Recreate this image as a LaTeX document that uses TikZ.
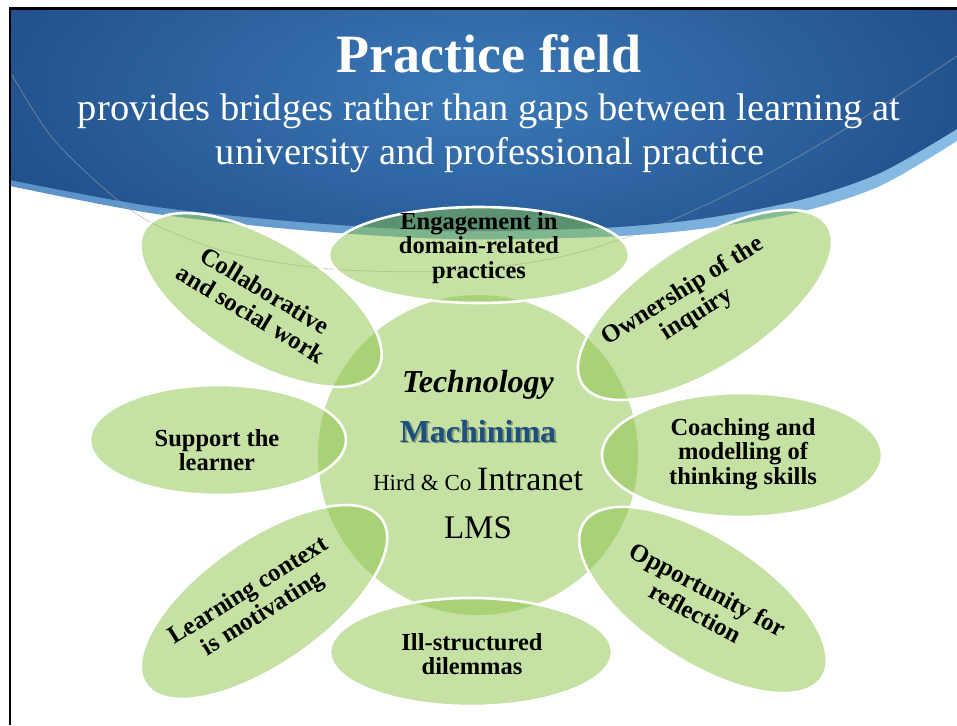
\documentclass[tikz,border=0pt]{standalone}
\usepackage{fontspec}
\setmainfont{Liberation Serif}
\usetikzlibrary{shapes.geometric}
\definecolor{hdrdark}{HTML}{1D4984}
\definecolor{hdrmid}{HTML}{3B79B7}
\definecolor{bandL}{HTML}{5A92C8}
\definecolor{bandR}{HTML}{88BCE4}
\definecolor{leaf}{RGB}{140,196,72}
\definecolor{machblue}{HTML}{1D4F80}
\begin{document}
% coordinates: x to the right, y measured downwards from the top edge (written negative)
\begin{tikzpicture}[x=1pt,y=1pt,
  blob/.style={ellipse, fill=leaf, fill opacity=0.5, draw=white, draw opacity=1,
               line width=2.6pt, inner sep=0pt},
  core/.style={circle, fill=leaf, fill opacity=0.5, inner sep=0pt, minimum size=320pt},
  lbl/.style={font=\bfseries\fontsize{24.5}{24.5}\selectfont, align=center, text=black, inner sep=0pt},
  rlbl/.style={lbl, font=\bfseries\fontsize{25}{27}\selectfont},
  hdr/.style={text=white, inner sep=0pt, anchor=base}]
\useasboundingbox (0,0) rectangle (957,-725);
\fill[white] (0,0) rectangle (957,-725);

% header banner: light band underneath, darker body on top
\shade[left color=bandL, right color=bandR]
  (10,-10) -- (957,-10) -- plot[smooth] coordinates {(957,-141) (880,-186) (800,-212) (700,-229)
  (600,-237) (450,-239) (300,-230) (150,-213) (10,-186)} -- cycle;
\begin{scope}
  \clip (10,-10) -- (957,-10) -- plot[smooth] coordinates {(957,-129) (880,-173) (800,-200)
    (700,-219) (600,-228) (450,-231) (300,-222) (150,-206) (10,-180)} -- cycle;
  \shade[inner color=hdrmid, outer color=hdrdark] (-120,160) rectangle (1080,-340);
\end{scope}

% faint decorative arc
\draw[gray!70, line width=0.7pt, opacity=0.6]
  plot[smooth] coordinates {(12,-75) (50,-135) (100,-185) (150,-222) (230,-253) (330,-269)
  (450,-271) (560,-257) (660,-225) (760,-178) (860,-120) (957,-56)};

% slide frame
\draw[black, line width=3pt] (8.5,-8.5) -- (957,-8.5);
\draw[black, line width=2pt] (10,-8) -- (10,-725);

% title
\node[hdr, font=\bfseries\fontsize{54}{60}\selectfont] (title) at (489,-72) {Practice field};
\node[hdr, font=\fontsize{38.5}{44}\selectfont] (sub1) at (489,-120)
  {provides bridges rather than gaps between learning at};
\node[hdr, font=\fontsize{38.5}{44}\selectfont] (sub2) at (490,-164)
  {university and professional practice};

% central circle and surrounding ellipses
\node[core] (core) at (478,-455) {};
\node[blob, minimum width=272pt, minimum height=120pt, rotate=-31] (collab) at (261,-300) {};
\node[blob, minimum width=292pt, minimum height=124pt, rotate=33] (own) at (705,-305) {};
\node[blob, minimum width=288pt, minimum height=124pt, rotate=35] (learn) at (264,-602) {};
\node[blob, minimum width=284pt, minimum height=124pt, rotate=-33] (opp) at (703,-600) {};
\node[blob, minimum width=300pt, minimum height=96pt] (eng) at (479,-255) {};
\node[blob, minimum width=256pt, minimum height=110pt] (supp) at (218,-440) {};
\node[blob, minimum width=280pt, minimum height=124pt] (coach) at (742,-455) {};
\node[blob, minimum width=282pt, minimum height=108pt] (ill) at (471,-652) {};

% labels of the ellipses
\node[lbl] (tEng) at (479,-248) {Engagement in\\domain-related\\practices};
\node[rlbl, rotate=-31] (tCollab) at (258,-302) {Collaborative\\and social work};
\node[rlbl, rotate=32] (tOwn) at (690,-303) {Ownership of the\\inquiry};
\node[lbl] (tSupp) at (217,-450) {Support the\\learner};
\node[lbl] (tCoach) at (743,-454) {Coaching and\\modelling of\\thinking skills};
\node[rlbl, rotate=32] (tLearn) at (256,-603) {Learning context\\is motivating};
\node[rlbl, rotate=-28] (tOpp) at (702,-601) {Opportunity for\\reflection};
\node[lbl] (tIll) at (472,-654) {Ill-structured\\dilemmas};

% technology list in the circle
\node[anchor=base, inner sep=0pt, font=\bfseries\itshape\fontsize{32}{36}\selectfont]
  (tech) at (478,-392) {Technology};
\node[anchor=base, inner sep=0pt, text=black, opacity=0.3, font=\bfseries\fontsize{32}{36}\selectfont]
  (machshadow) at (479.8,-443.8) {Machinima};
\node[anchor=base, inner sep=0pt, text=machblue, font=\bfseries\fontsize{32}{36}\selectfont]
  (mach) at (478,-442) {Machinima};
\node[anchor=base, inner sep=0pt] (intra) at (478,-490)
  {{\fontsize{23}{26}\selectfont Hird \& Co\ }{\fontsize{34}{38}\selectfont Intranet}};
\node[anchor=base, inner sep=0pt, font=\fontsize{33}{36}\selectfont] (lms) at (478,-538) {LMS};
\end{tikzpicture}
\end{document}
